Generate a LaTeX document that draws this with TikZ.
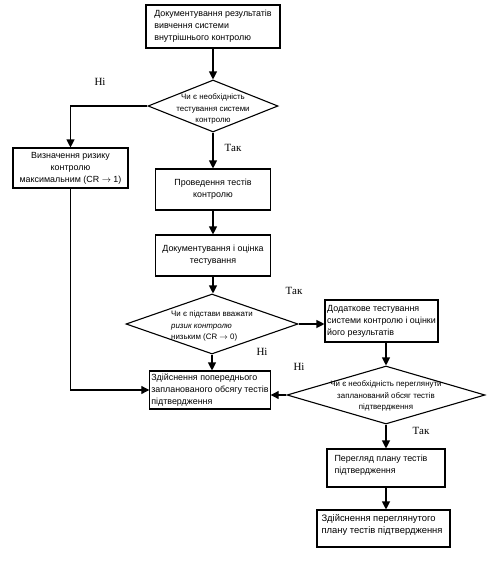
\documentclass[tikz,border=0pt]{standalone}
\usepackage{fontspec}
\setmainfont{Liberation Sans}
\newfontfamily\lblfont{Liberation Serif}
\usetikzlibrary{shapes.geometric,arrows.meta,calc}
\begin{document}
\begin{tikzpicture}[x=1pt,y=-1pt,
 box/.style={draw,line width=1.1pt,inner sep=1.5pt},
 dia/.style={draw,diamond,line width=1.1pt,inner sep=0pt},
 tx/.style={font=\fontsize{8.9}{12}\selectfont,align=center},
 txl/.style={font=\fontsize{8.9}{12}\selectfont,align=left},
 dtx/.style={font=\fontsize{7.9}{11.5}\selectfont},
 lbl/.style={font=\lblfont\fontsize{11}{13}\selectfont},
 arr/.style={line width=1.1pt,-{Triangle[length=8pt,width=8pt]}},
 ln/.style={line width=1.1pt}]
\useasboundingbox (0,0) rectangle (494,568);

% boxes
\node[box,txl,minimum width=134pt,minimum height=43pt] (b1) at (213,26.5)
  {Документування результатів\\вивчення системи\\внутрішнього контролю};
\node[dia,minimum width=130pt,minimum height=52pt] (d1) at (213,106) {};
\node[dtx,align=center] (d1t) at (213,109) {Чи є необхідність\\тестування системи\\контролю};

\node[box,tx,minimum width=115pt,minimum height=40pt] (b2) at (70.5,168)
  {Визначення ризику\\контролю\\максимальним (CR $\rightarrow$ 1)};

\node[box,tx,minimum width=115pt,minimum height=41pt] (b3) at (213,189.5)
  {Проведення тестів\\контролю};
\node[box,tx,minimum width=115pt,minimum height=41pt] (b4) at (213,255.5)
  {Документування і оцінка\\тестування};

\node[dia,minimum width=172pt,minimum height=60pt] (d2) at (212,324) {};
\node[dtx,align=left] (d2t) at (212,326) {Чи є підстави вважати\\\textit{ризик контролю}\\низьким (CR $\rightarrow$ 0)};

\node[box,txl,minimum width=113pt,minimum height=42pt] (b5) at (381.5,321)
  {Додаткове тестування\\системи контролю і оцінки\\його результатів};

\node[dia,minimum width=198pt,minimum height=58pt] (d3) at (386,395) {};
\node[dtx,align=center] (d3t) at (386,396) {Чи є необхідність переглянути\\запланований обсяг тестів\\підтвердження};

\node[box,txl,minimum width=118pt,minimum height=38pt] (b6) at (210,390)
  {Здійснення попереднього\\запланованого обсягу тестів\\підтвердження};

\node[box,minimum width=118pt,minimum height=38pt] (b7) at (386,468) {};
\node[txl,anchor=north west] (b7t) at (331,452) {Перегляд плану тестів\\підтвердження};

\node[box,minimum width=133pt,minimum height=37pt] (b8) at (383.5,528.5) {};
\node[font=\fontsize{9.4}{12}\selectfont,align=left,anchor=north west] (b8t) at (318,511) {Здійснення переглянутого\\плану тестів підтвердження};

% labels
\node[lbl] (l1) at (100,82) {Ні};
\node[lbl] (l2) at (233,148) {Так};
\node[lbl] (l3) at (294,291) {Так};
\node[lbl] (l4) at (262,352) {Ні};
\node[lbl] (l5) at (299,367) {Ні};
\node[lbl] (l6) at (421,431) {Так};

% connectors
\draw[arr] (b1.south) -- (d1.north);
\draw[arr] (d1.west) -| (b2.north);
\draw[arr] (d1.south) -- (b3.north);
\draw[arr] (b3.south) -- (b4.north);
\draw[arr] (b4.south) -- (b4.south |- d2.north);
\draw[arr] (d2.south) -- (d2.south |- b6.north);
\draw[arr] (d2.east) -- (d2.east -| b5.west);
\draw[arr] (d3.north |- b5.south) -- (d3.north);
\draw[arr] (d3.west) -- (d3.west -| b6.east);
\draw[arr] (b2.south) |- (b6.west);
\draw[arr] (d3.south) -- (b7.north);
\draw[arr] (b7.south) -- (b7.south |- b8.north);
\end{tikzpicture}
\end{document}
